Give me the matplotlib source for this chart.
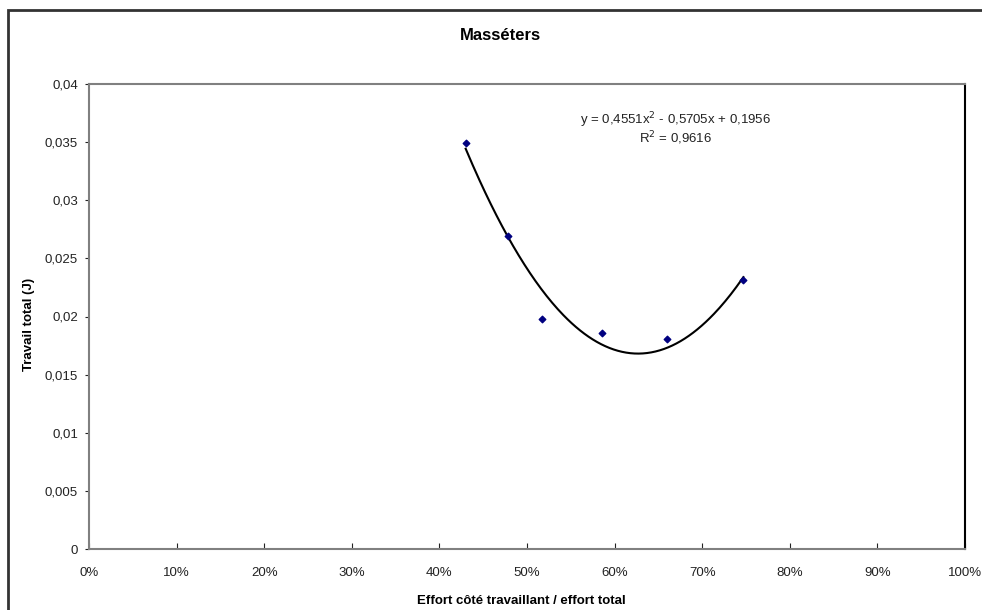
import numpy as np
import matplotlib.pyplot as plt
from matplotlib.patches import Rectangle
from matplotlib.ticker import FuncFormatter

plt.rcParams['font.family'] = ['Liberation Sans', 'DejaVu Sans']

# Données
effort = [0.430, 0.478, 0.517, 0.586, 0.660, 0.747]
travail = [0.0349, 0.0269, 0.0198, 0.0186, 0.0181, 0.0231]

# Courbe de tendance (polynomiale ordre 2) affichée
coefs = [0.4551, -0.5705, 0.1956]
r2 = 0.9616

y_ticks = [0, 0.005, 0.01, 0.015, 0.02, 0.025, 0.03, 0.035, 0.04]
x_ticks = [0, 0.1, 0.2, 0.3, 0.4, 0.5, 0.6, 0.7, 0.8, 0.9, 1.0]

fig = plt.figure(figsize=(9.82, 6.10), dpi=100)
ax = fig.add_axes([89/982, 61/610, 876/982, 465/610])

# cadre extérieur (coupé à droite et en bas comme dans l'original)
fig.patches.append(Rectangle((8/982, -0.1), 1.2, (600 + 61) / 610, transform=fig.transFigure,
                             fill=False, edgecolor='#333333', linewidth=2))

xs = np.linspace(min(effort), max(effort), 200)
ax.plot(xs, np.polyval(coefs, xs), color='black', linewidth=1.5, zorder=2)
ax.scatter(effort, travail, marker='D', s=11, color='#000080', zorder=3)

ax.set_xlim(0, 1)
ax.set_ylim(0, 0.04)
ax.set_xticks(x_ticks)
ax.set_yticks(y_ticks)
ax.xaxis.set_major_formatter(FuncFormatter(lambda v, p: f"{v*100:.0f}%"))
ax.yaxis.set_major_formatter(FuncFormatter(lambda v, p: ('0' if v == 0 else f"{v:g}".replace('.', ','))))
ax.tick_params(axis='x', direction='in', length=4, labelsize=9.5, colors='#222222', pad=13)
ax.tick_params(axis='y', direction='out', length=3, labelsize=9.5, colors='#222222', pad=5)

for s in ['left', 'bottom', 'top']:
    ax.spines[s].set_color('#808080')
    ax.spines[s].set_linewidth(1.5)
ax.spines['right'].set_color('black')
ax.spines['right'].set_linewidth(1.5)

fig.text(500/982, 1 - 35/610, 'Masséters', ha='center', va='center', fontsize=12, fontweight='bold')
ax.set_xlabel('Effort côté travaillant / effort total', fontsize=9.5, fontweight='bold')
ax.xaxis.set_label_coords((521 - 89) / 876, -(595 - 549) / 465)
ax.set_ylabel('Travail total (J)', fontsize=9.5, fontweight='bold', va='center')
ax.yaxis.set_label_coords((29 - 89) / 876, (549 - 324) / 465)

eq = f"y = {coefs[0]:.4f}x$^2$ - {abs(coefs[1]):.4f}x + {coefs[2]:.4f}".replace('.', ',')
ax.text(0.670, 0.0369, eq, ha='center', va='center', fontsize=9.5, color='#222222')
ax.text(0.670, 0.0353, f"R$^2$ = {r2:.4f}".replace('.', ','), ha='center', va='center',
        fontsize=9.5, color='#222222')

fig.savefig('out.png', dpi=100)
